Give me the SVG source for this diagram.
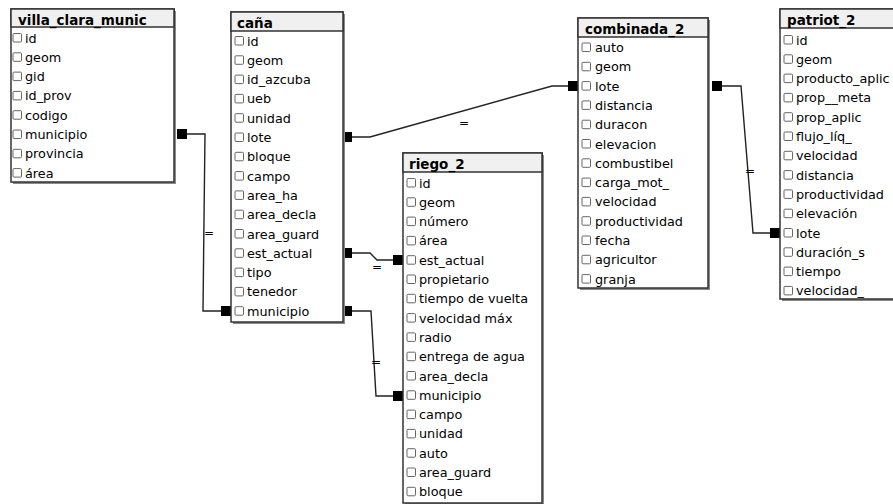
<svg xmlns="http://www.w3.org/2000/svg" width="893" height="504" viewBox="0 0 893 504">
<style>
.shadow{fill:#8a8a8a;}
.box{fill:#ffffff;stroke:#333333;stroke-width:1.5;}
.hdr{fill:#f0f0f0;stroke:#333333;stroke-width:1.5;}
.title{font-family:"DejaVu Sans",sans-serif;font-weight:bold;font-size:13.5px;fill:#000;}
.f{font-family:"DejaVu Sans",sans-serif;font-size:12.8px;fill:#000;}
.cb{fill:#fff;stroke:#666;stroke-width:1;}
.ln{fill:none;stroke:#222;stroke-width:1.4;}
.sq{fill:#000;}
.eq{font-family:"DejaVu Sans",sans-serif;font-size:12px;fill:#000;}
</style>
<defs>
<rect id="cbx" class="cb" x="0" y="-4.5" width="8.5" height="8.5" rx="1"/>
</defs>

<g id="connectors">
  <path class="ln" d="M187,134 H205 L204,220 L203,311 H221"/>
  <rect class="sq" x="177" y="129" width="10" height="10"/>
  <rect class="sq" x="221" y="306" width="10" height="10"/>
  <text class="eq" x="204" y="237">=</text>

  <path class="ln" d="M352,137 H370 L552,86 H568"/>
  <rect class="sq" x="342" y="132" width="10" height="10"/>
  <rect class="sq" x="568" y="81" width="10" height="10"/>
  <text class="eq" x="459" y="127">=</text>

  <path class="ln" d="M352,253 H370 L377,260 H393"/>
  <rect class="sq" x="342" y="248" width="10" height="10"/>
  <rect class="sq" x="393" y="255" width="10" height="10"/>
  <text class="eq" x="372" y="271">=</text>

  <path class="ln" d="M352,311 H371 L376,396 H393"/>
  <rect class="sq" x="342" y="306" width="10" height="10"/>
  <rect class="sq" x="393" y="391" width="10" height="10"/>
  <text class="eq" x="371" y="366">=</text>

  <path class="ln" d="M722,86 H741 L753,233 H770"/>
  <rect class="sq" x="712" y="81" width="10" height="10"/>
  <rect class="sq" x="770" y="228" width="10" height="10"/>
  <text class="eq" x="745" y="175">=</text>
</g>

<g id="villa_clara_munic">
  <rect class="shadow" x="13" y="11" width="163" height="173"/>
  <rect class="box" x="11" y="9" width="163" height="173"/>
  <rect class="hdr" x="11" y="9" width="163" height="18"/>
  <text class="title" x="18" y="24.5">villa_clara_munic</text>
  <g class="f">
    <use href="#cbx" x="13" y="38"/><text x="25" y="42.5">id</text>
    <use href="#cbx" x="13" y="57.3"/><text x="25" y="61.8">geom</text>
    <use href="#cbx" x="13" y="76.6"/><text x="25" y="81.1">gid</text>
    <use href="#cbx" x="13" y="95.9"/><text x="25" y="100.4">id_prov</text>
    <use href="#cbx" x="13" y="115.2"/><text x="25" y="119.7">codigo</text>
    <use href="#cbx" x="13" y="134.5"/><text x="25" y="139">municipio</text>
    <use href="#cbx" x="13" y="153.8"/><text x="25" y="158.3">provincia</text>
    <use href="#cbx" x="13" y="173.1"/><text x="25" y="177.6">área</text>
  </g>
</g>

<g id="cana">
  <rect class="shadow" x="233" y="14" width="112" height="310"/>
  <rect class="box" x="231" y="12" width="112" height="310"/>
  <rect class="hdr" x="231" y="12" width="112" height="19"/>
  <text class="title" x="237" y="27.5">caña</text>
  <g class="f">
    <use href="#cbx" x="235" y="41"/><text x="247" y="45.5">id</text>
    <use href="#cbx" x="235" y="60.3"/><text x="247" y="64.8">geom</text>
    <use href="#cbx" x="235" y="79.6"/><text x="247" y="84.1">id_azcuba</text>
    <use href="#cbx" x="235" y="98.9"/><text x="247" y="103.4">ueb</text>
    <use href="#cbx" x="235" y="118.2"/><text x="247" y="122.7">unidad</text>
    <use href="#cbx" x="235" y="137.5"/><text x="247" y="142">lote</text>
    <use href="#cbx" x="235" y="156.8"/><text x="247" y="161.3">bloque</text>
    <use href="#cbx" x="235" y="176.1"/><text x="247" y="180.6">campo</text>
    <use href="#cbx" x="235" y="195.4"/><text x="247" y="199.9">area_ha</text>
    <use href="#cbx" x="235" y="214.7"/><text x="247" y="219.2">area_decla</text>
    <use href="#cbx" x="235" y="234"/><text x="247" y="238.5">area_guard</text>
    <use href="#cbx" x="235" y="253.3"/><text x="247" y="257.8">est_actual</text>
    <use href="#cbx" x="235" y="272.6"/><text x="247" y="277.1">tipo</text>
    <use href="#cbx" x="235" y="291.9"/><text x="247" y="296.4">tenedor</text>
    <use href="#cbx" x="235" y="311.2"/><text x="247" y="315.7">municipio</text>
  </g>
</g>

<g id="riego_2">
  <rect class="shadow" x="405" y="155" width="139" height="350"/>
  <rect class="box" x="403" y="153" width="139" height="350"/>
  <rect class="hdr" x="403" y="153" width="139" height="19"/>
  <text class="title" x="409" y="168.5">riego_2</text>
  <g class="f">
    <use href="#cbx" x="407" y="183"/><text x="419" y="187.5">id</text>
    <use href="#cbx" x="407" y="202.3"/><text x="419" y="206.8">geom</text>
    <use href="#cbx" x="407" y="221.6"/><text x="419" y="226.1">número</text>
    <use href="#cbx" x="407" y="240.9"/><text x="419" y="245.4">área</text>
    <use href="#cbx" x="407" y="260.2"/><text x="419" y="264.7">est_actual</text>
    <use href="#cbx" x="407" y="279.5"/><text x="419" y="284">propietario</text>
    <use href="#cbx" x="407" y="298.8"/><text x="419" y="303.3">tiempo de vuelta</text>
    <use href="#cbx" x="407" y="318.1"/><text x="419" y="322.6">velocidad máx</text>
    <use href="#cbx" x="407" y="337.4"/><text x="419" y="341.9">radio</text>
    <use href="#cbx" x="407" y="356.7"/><text x="419" y="361.2">entrega de agua</text>
    <use href="#cbx" x="407" y="376"/><text x="419" y="380.5">area_decla</text>
    <use href="#cbx" x="407" y="395.3"/><text x="419" y="399.8">municipio</text>
    <use href="#cbx" x="407" y="414.6"/><text x="419" y="419.1">campo</text>
    <use href="#cbx" x="407" y="433.9"/><text x="419" y="438.4">unidad</text>
    <use href="#cbx" x="407" y="453.2"/><text x="419" y="457.7">auto</text>
    <use href="#cbx" x="407" y="472.5"/><text x="419" y="477">area_guard</text>
    <use href="#cbx" x="407" y="491.8"/><text x="419" y="496.3">bloque</text>
  </g>
</g>

<g id="combinada_2">
  <rect class="shadow" x="580" y="20" width="130" height="270"/>
  <rect class="box" x="578" y="18" width="130" height="270"/>
  <rect class="hdr" x="578" y="18" width="130" height="19"/>
  <text class="title" x="585" y="33.5">combinada_2</text>
  <g class="f">
    <use href="#cbx" x="582" y="47.5"/><text x="595" y="52">auto</text>
    <use href="#cbx" x="582" y="66.8"/><text x="595" y="71.3">geom</text>
    <use href="#cbx" x="582" y="86.1"/><text x="595" y="90.6">lote</text>
    <use href="#cbx" x="582" y="105.4"/><text x="595" y="109.9">distancia</text>
    <use href="#cbx" x="582" y="124.7"/><text x="595" y="129.2">duracon</text>
    <use href="#cbx" x="582" y="144"/><text x="595" y="148.5">elevacion</text>
    <use href="#cbx" x="582" y="163.3"/><text x="595" y="167.8">combustibel</text>
    <use href="#cbx" x="582" y="182.6"/><text x="595" y="187.1">carga_mot_</text>
    <use href="#cbx" x="582" y="201.9"/><text x="595" y="206.4">velocidad</text>
    <use href="#cbx" x="582" y="221.2"/><text x="595" y="225.7">productividad</text>
    <use href="#cbx" x="582" y="240.5"/><text x="595" y="245">fecha</text>
    <use href="#cbx" x="582" y="259.8"/><text x="595" y="264.3">agricultor</text>
    <use href="#cbx" x="582" y="279.1"/><text x="595" y="283.6">granja</text>
  </g>
</g>

<g id="patriot_2">
  <rect class="shadow" x="782" y="11" width="130" height="290"/>
  <rect class="box" x="780" y="9" width="130" height="290"/>
  <rect class="hdr" x="780" y="9" width="130" height="19"/>
  <text class="title" x="787" y="24.5">patriot_2</text>
  <g class="f">
    <use href="#cbx" x="784" y="40"/><text x="796" y="44.5">id</text>
    <use href="#cbx" x="784" y="59.3"/><text x="796" y="63.8">geom</text>
    <use href="#cbx" x="784" y="78.6"/><text x="796" y="83.1">producto_aplic</text>
    <use href="#cbx" x="784" y="97.9"/><text x="796" y="102.4">prop__meta</text>
    <use href="#cbx" x="784" y="117.2"/><text x="796" y="121.7">prop_aplic</text>
    <use href="#cbx" x="784" y="136.5"/><text x="796" y="141">flujo_líq_</text>
    <use href="#cbx" x="784" y="155.8"/><text x="796" y="160.3">velocidad</text>
    <use href="#cbx" x="784" y="175.1"/><text x="796" y="179.6">distancia</text>
    <use href="#cbx" x="784" y="194.4"/><text x="796" y="198.9">productividad</text>
    <use href="#cbx" x="784" y="213.7"/><text x="796" y="218.2">elevación</text>
    <use href="#cbx" x="784" y="233"/><text x="796" y="237.5">lote</text>
    <use href="#cbx" x="784" y="252.3"/><text x="796" y="256.8">duración_s</text>
    <use href="#cbx" x="784" y="271.6"/><text x="796" y="276.1">tiempo</text>
    <use href="#cbx" x="784" y="290.9"/><text x="796" y="295.4">velocidad_</text>
  </g>
</g>
</svg>
